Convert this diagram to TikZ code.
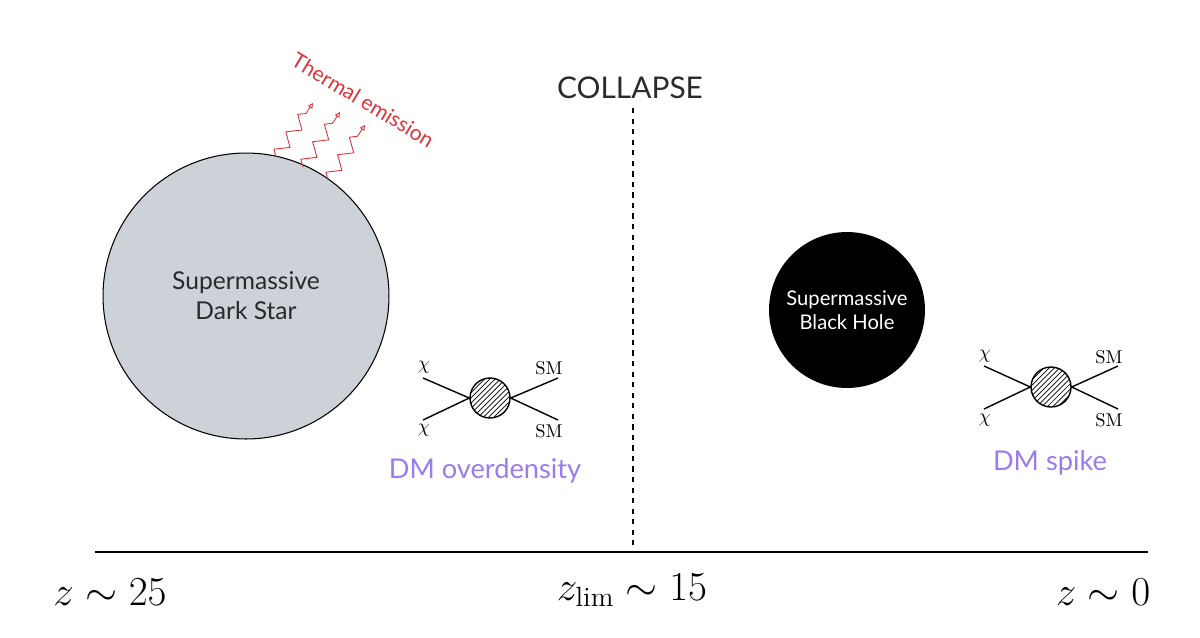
\documentclass[tikz,border=0pt]{standalone}
\usepackage{fontspec}
\setsansfont{Lato}
\usetikzlibrary{decorations.pathmorphing,patterns,arrows.meta}
\definecolor{ds}{HTML}{CDD2D9}
\definecolor{em}{HTML}{E0323A}
\definecolor{dm}{HTML}{9B7CF0}
\definecolor{tx}{HTML}{2A2A2A}
\begin{document}
\begin{tikzpicture}[x=0.02cm,y=-0.02cm,
  lab/.style={font=\sffamily\fontsize{14}{17}\selectfont,align=center,text=tx},
  leg/.style={line width=0.8pt},
  blob/.style={circle,draw,line width=0.8pt,minimum size=0.8cm,inner sep=0pt,pattern=north east lines},
  wave/.style={em,line width=0.5pt,decorate,decoration={zigzag,segment length=12pt,amplitude=3.5pt,post length=4pt},-{Triangle[open,length=3pt,width=3pt]}},
  zl/.style={font=\fontsize{20}{22}\selectfont,scale=1.13},
  fl/.style={font=\fontsize{10.5}{12}\selectfont}]
\useasboundingbox (0,0) rectangle (1200,637);
\node[circle,draw,fill=ds,line width=0.6pt,minimum size=5.72cm,lab] (ds) at (246,296) {Supermassive\\Dark Star};
\node[circle,fill=black,minimum size=3.12cm,text=white,font=\sffamily\fontsize{11.5}{14}\selectfont,align=center] (bh) at (847,310) {Supermassive\\Black Hole};
\coordinate (w1a) at (276,157); \coordinate (w1b) at (313,103);
\coordinate (w2a) at (303,167); \coordinate (w2b) at (340,112);
\coordinate (w3a) at (328,180); \coordinate (w3b) at (365,125);
\draw[wave] (w1a) -- (w1b);
\draw[wave] (w2a) -- (w2b);
\draw[wave] (w3a) -- (w3b);
\node[em,rotate=-31,font=\sffamily\fontsize{12}{14}\selectfont] (te) at (363,100) {Thermal emission};
\node[font=\sffamily\fontsize{17}{19}\selectfont,text=tx] (col) at (630,88) {COLLAPSE};
\coordinate (dt) at (633,108); \coordinate (db) at (633,552);
\draw[dashed,line width=0.8pt] (dt) -- (db);
\coordinate (al) at (95,552); \coordinate (ar) at (1148,552);
\draw[line width=1pt] (al) -- (ar);
\node[zl] (z1) at (110,592) {$z\sim25$};
\node[zl] (z2) at (632,590) {$z_{\mathrm{lim}}\sim15$};
\node[zl] (z3) at (1103,592) {$z\sim0$};
% Feynman 1
\node[blob] (b1) at (490,398) {};
\coordinate (l1a) at (423,378); \coordinate (l1b) at (423,420);
\coordinate (r1a) at (558,378); \coordinate (r1b) at (558,420);
\draw[leg] (l1a) -- (b1.west) -- (l1b); \draw[leg] (r1a) -- (b1.east) -- (r1b);
\node[fl] (c1a) at (424,367) {$\chi$};
\node[fl] (c1b) at (424,430) {$\chi$};
\node[fl] (s1a) at (549,368) {SM};
\node[fl] (s1b) at (549,431) {SM};
\node[dm,font=\sffamily\fontsize{15.5}{17}\selectfont] (t1) at (485,471) {DM overdensity};
% Feynman 2
\node[blob] (b2) at (1051,387) {};
\coordinate (l2a) at (984,366); \coordinate (l2b) at (984,409);
\coordinate (r2a) at (1118,366); \coordinate (r2b) at (1118,409);
\draw[leg] (l2a) -- (b2.west) -- (l2b); \draw[leg] (r2a) -- (b2.east) -- (r2b);
\node[fl] (c2a) at (985,356) {$\chi$};
\node[fl] (c2b) at (985,420) {$\chi$};
\node[fl] (s2a) at (1109,357) {SM};
\node[fl] (s2b) at (1109,420) {SM};
\node[dm,font=\sffamily\fontsize{15.5}{17}\selectfont] (t2) at (1050,463) {DM spike};
\end{tikzpicture}
\end{document}
